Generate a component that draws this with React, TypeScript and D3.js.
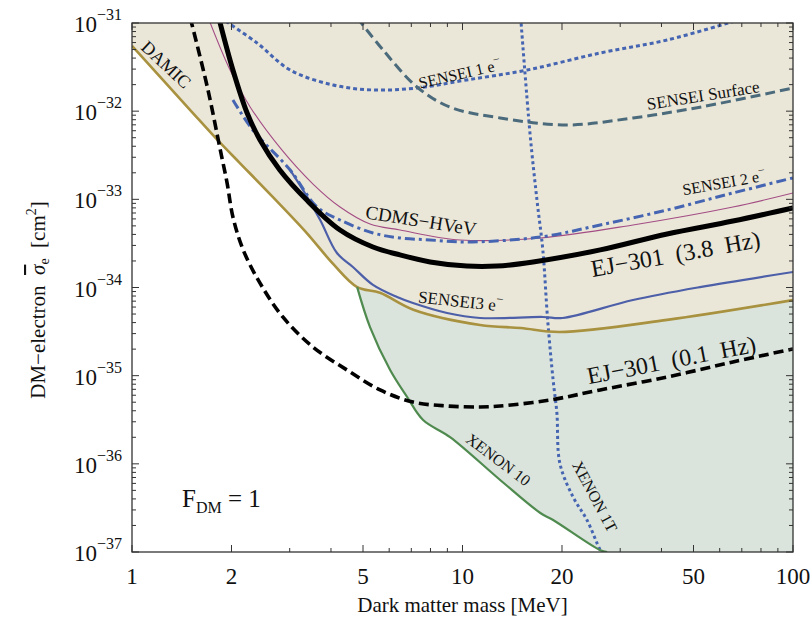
import React from 'react'
import * as d3 from 'd3'

const width = 811
const height = 622
const margin = { left: 132, top: 23, right: 18, bottom: 70 }
const font = 'Liberation Serif, Times New Roman, serif'

// tick labels
const massTicks = [1, 2, 5, 10, 20, 50, 100]
const massMinor = [3, 4, 6, 7, 8, 9, 30, 40, 60, 70, 80, 90]
const sigmaExps = [-31, -32, -33, -34, -35, -36, -37]

// DAMIC + SENSEI combined (gold)
const damicMass = [1, 1.5, 1.85, 2.12, 2.67, 3.38, 4.06, 4.8, 5.63, 7.1, 11.3, 15, 19.7, 41.6, 100]
const damicSigma = [5.5e-32, 1.03e-32, 4.36e-33, 2.58e-33, 1.06e-33, 4.15e-34, 1.85e-34, 1.01e-34, 8.7e-35, 5.6e-35, 3.76e-35, 3.47e-35, 3.13e-35, 4.29e-35, 7.2e-35]

// EJ-301 (3.8 Hz)
const ej38Mass = [1.83, 2.02, 2.23, 2.44, 2.8, 3.38, 4.26, 5.36, 6.47, 7.98, 10.3, 12.7, 16.35, 26.1, 41.6, 65.8, 100]
const ej38Sigma = [1.15e-31, 2.93e-32, 9.53e-33, 4.71e-33, 2.15e-33, 9.8e-34, 4.49e-34, 2.88e-34, 2.34e-34, 1.95e-34, 1.75e-34, 1.75e-34, 1.95e-34, 2.67e-34, 4.05e-34, 5.67e-34, 7.98e-34]

// EJ-301 (0.1 Hz)
const ej01Mass = [1.5, 1.69, 1.85, 1.94, 2.02, 2.17, 2.44, 2.86, 3.53, 4.47, 5.63, 7.08, 8.98, 11.3, 13, 18.4, 26.1, 41.6, 65.8, 100]
const ej01Sigma = [1.15e-31, 1.88e-32, 3.63e-33, 1.53e-33, 6.31e-34, 2.67e-34, 1.12e-34, 4.63e-35, 2.11e-35, 1.16e-35, 6.89e-36, 5.02e-36, 4.53e-36, 4.42e-36, 4.53e-36, 5.3e-36, 6.89e-36, 9.66e-36, 1.43e-35, 2.01e-35]

// CDMS-HVeV
const cdmsMass = [1.7, 1.98, 2.28, 2.84, 3.53, 4.26, 5.25, 6.47, 9.84, 17.2, 32.8, 65.8, 100]
const cdmsSigma = [1.15e-31, 2.93e-32, 1.11e-32, 3.63e-33, 1.49e-33, 8.18e-34, 5.25e-34, 4.49e-34, 3.46e-34, 3.65e-34, 5.12e-34, 8.18e-34, 1.18e-33]

// SENSEI 2e-
const sensei2Mass = [2.02, 2.32, 3.01, 3.63, 4.26, 5.36, 6.47, 7.98, 10.3, 17.2, 26.1, 41.6, 65.8, 100]
const sensei2Sigma = [1.34e-32, 6.11e-33, 2.15e-33, 8.18e-34, 5.83e-34, 4.15e-34, 3.65e-34, 3.46e-34, 3.28e-34, 3.74e-34, 5.12e-34, 7.57e-34, 1.18e-33, 1.75e-33]

// SENSEI 3e-
const sensei3Mass = [3.01, 3.29, 3.71, 4.17, 4.66, 5.36, 6.34, 7.08, 8.98, 11.3, 17.5, 20.1, 32.8, 52.3, 100]
const sensei3Sigma = [2.15e-33, 1.28e-33, 5.83e-34, 2.46e-34, 1.71e-34, 1.07e-34, 7.8e-35, 6.67e-35, 5.14e-35, 4.51e-35, 4.63e-35, 4.51e-35, 7.21e-35, 1.01e-34, 1.5e-34]

// SENSEI 1e-
const sensei1Mass = [1.92, 2.39, 3.01, 4.06, 5.36, 7.28, 10.3, 15.7, 26.1, 41.6, 66.5]
const sensei1Sigma = [1.05e-31, 5.93e-32, 2.93e-32, 1.98e-32, 1.74e-32, 1.83e-32, 2.26e-32, 2.93e-32, 4.57e-32, 6.41e-32, 1.05e-31]

// SENSEI surface
const surfaceMass = [4.8, 5.75, 7.28, 9.17, 13, 20.7, 32.8, 52.3, 100]
const surfaceSigma = [1.15e-31, 4.94e-32, 1.88e-32, 1.11e-32, 8.38e-33, 6.97e-33, 8.38e-33, 1.11e-32, 1.83e-32]

// XENON 10
const xenon10Mass = [4.8, 5.25, 6.04, 6.8, 7.6, 9.17, 13, 17.2, 18.8, 26.1, 27.4]
const xenon10Sigma = [1.01e-34, 3.56e-35, 1.16e-35, 5.73e-36, 3.14e-36, 2.01e-36, 6.56e-37, 2.77e-37, 2.31e-37, 1.05e-37, 1e-37]

// XENON 1T
const xenon1tMass = [15.0, 16.0, 16.8, 17.5, 18.1, 18.8, 19.3, 19.7, 21.6, 23.8, 26.1, 26.8]
const xenon1tSigma = [1.15e-31, 5.65e-33, 9.8e-34, 2.67e-34, 4.29e-35, 8.93e-36, 3.78e-36, 1.02e-36, 4.21e-37, 2.31e-37, 1.05e-37, 0.9e-37]

const zip = (ms: number[], ss: number[]): [number, number][] => ms.map((m, i) => [m, ss[i]])

function App() {
  const x = d3.scaleLog().domain([1, 100]).range([margin.left, width - margin.right])
  const y = d3.scaleLog().domain([1e-37, 1e-31]).range([height - margin.bottom, margin.top])
  const x0 = x(1)
  const x1 = x(100)
  const y0 = y(1e-37)
  const y1 = y(1e-31)

  const line = d3
    .line<[number, number]>()
    .x((d) => x(d[0]))
    .y((d) => y(d[1]))
    .curve(d3.curveCatmullRom.alpha(0.5))

  const damicPts = zip(damicMass, damicSigma)
  const xenonPts = zip(xenon10Mass, xenon10Sigma)

  const greenArea = `${line(xenonPts)}L${x1},${y0}L${x1},${y1}L${x(4.8)},${y1}Z`
  const beigeArea = `${line(damicPts)}L${x1},${y1}L${x0},${y1}Z`

  const yMinor = y.ticks().filter((v) => Math.abs(Math.log10(v) - Math.round(Math.log10(v))) > 1e-6)

  const curves = [
    { d: line(zip(xenon1tMass, xenon1tSigma)), stroke: '#4565b2', w: 3, dash: '3,3' },
    { d: line(zip(sensei1Mass, sensei1Sigma)), stroke: '#4565b2', w: 3, dash: '4,3' },
    { d: line(zip(surfaceMass, surfaceSigma)), stroke: '#4b6b7c', w: 3, dash: '10,5' },
    { d: line(damicPts), stroke: '#a8913f', w: 2.6, dash: undefined },
    { d: line(xenonPts), stroke: '#4f8a4f', w: 2.2, dash: undefined },
    { d: line(zip(cdmsMass, cdmsSigma)), stroke: '#a34d85', w: 1.1, dash: undefined },
    { d: line(zip(sensei3Mass, sensei3Sigma)), stroke: '#4c5fa8', w: 2.2, dash: undefined },
    { d: line(zip(sensei2Mass, sensei2Sigma)), stroke: '#4565b2', w: 3, dash: '10,4,3,4' },
    { d: line(zip(ej38Mass, ej38Sigma)), stroke: '#000', w: 5, dash: undefined },
    { d: line(zip(ej01Mass, ej01Sigma)), stroke: '#000', w: 3.6, dash: '10,5' },
  ]

  const labels = [
    { t: 'DAMIC', sup: '', x: 162, y: 69, a: 43, s: 18 },
    { t: 'SENSEI 1 e', sup: '−', x: 461, y: 79, a: -13, s: 16 },
    { t: 'SENSEI Surface', sup: '', x: 704, y: 101, a: -9, s: 17 },
    { t: 'SENSEI 2 e', sup: '−', x: 725, y: 188, a: -10, s: 16 },
    { t: 'CDMS−HVeV', sup: '', x: 420, y: 227, a: 9, s: 19 },
    { t: 'EJ−301  (3.8  Hz)', sup: '', x: 677, y: 262, a: -10, s: 24 },
    { t: 'SENSEI3 e', sup: '−', x: 460, y: 307, a: 6, s: 17 },
    { t: 'EJ−301  (0.1  Hz)', sup: '', x: 673, y: 368, a: -11, s: 24 },
    { t: 'XENON 10', sup: '', x: 495, y: 464, a: 37, s: 16 },
    { t: 'XENON 1T', sup: '', x: 590, y: 499, a: 62, s: 16 },
  ]

  return (
    <svg
      width={width}
      height={height}
      style={{ position: 'absolute', left: 0, top: 0, background: '#fff' }}
      fontFamily={font}
    >
      <defs>
        <clipPath id="plot">
          <rect x={x0} y={y1} width={x1 - x0} height={y0 - y1} />
        </clipPath>
      </defs>
      <g clipPath="url(#plot)">
        <path d={greenArea} fill="#dbe4dc" />
        <path d={beigeArea} fill="#ebe7d8" />
        {curves.map((c, i) => (
          <path
            key={i}
            d={c.d ?? ''}
            fill="none"
            stroke={c.stroke}
            strokeWidth={c.w}
            strokeDasharray={c.dash}
          />
        ))}
      </g>

      {labels.map((l) => (
        <text
          key={l.t}
          transform={`translate(${l.x},${l.y}) rotate(${l.a})`}
          textAnchor="middle"
          fontSize={l.s}
          style={{ whiteSpace: 'pre' }}
          fill="#111"
        >
          {l.t}
          {l.sup && (
            <tspan dy={-l.s * 0.45} fontSize={l.s * 0.75}>
              {l.sup}
            </tspan>
          )}
        </text>
      ))}

      <text x={182} y={507} fontSize={25} fill="#111">
        F
        <tspan dy={6} fontSize={16}>
          DM
        </tspan>
        <tspan dy={-6} style={{ whiteSpace: 'pre' }}>
          {' = 1'}
        </tspan>
      </text>

      {/* frame */}
      <rect x={x0} y={y1} width={x1 - x0} height={y0 - y1} fill="none" stroke="#333" strokeWidth={1.3} />

      {/* x ticks */}
      {massTicks.map((m) => (
        <g key={m}>
          <line x1={x(m)} x2={x(m)} y1={y0} y2={y0 - 7} stroke="#333" />
          <line x1={x(m)} x2={x(m)} y1={y1} y2={y1 + 7} stroke="#333" />
          <text x={x(m)} y={584} textAnchor="middle" fontSize={23} fill="#111">
            {m}
          </text>
        </g>
      ))}
      {massMinor.map((m) => (
        <g key={m}>
          <line x1={x(m)} x2={x(m)} y1={y0} y2={y0 - 4} stroke="#333" />
          <line x1={x(m)} x2={x(m)} y1={y1} y2={y1 + 4} stroke="#333" />
        </g>
      ))}

      {/* y ticks */}
      {sigmaExps.map((e) => {
        const v = Math.pow(10, e)
        return (
          <g key={e}>
            <line x1={x0} x2={x0 + 7} y1={y(v)} y2={y(v)} stroke="#333" />
            <line x1={x1} x2={x1 - 7} y1={y(v)} y2={y(v)} stroke="#333" />
            <text x={122} y={y(v) + 9} textAnchor="end" fontSize={23} fill="#111">
              10
              <tspan dy={-12} fontSize={16}>
                {`−${-e}`}
              </tspan>
            </text>
          </g>
        )
      })}
      {yMinor.map((v, i) => (
        <g key={i}>
          <line x1={x0} x2={x0 + 4} y1={y(v)} y2={y(v)} stroke="#333" />
          <line x1={x1} x2={x1 - 4} y1={y(v)} y2={y(v)} stroke="#333" />
        </g>
      ))}

      {/* axis titles */}
      <text x={(x0 + x1) / 2} y={612} textAnchor="middle" fontSize={21} fill="#111">
        Dark matter mass [MeV]
      </text>
      <text transform="translate(45,300) rotate(-90)" textAnchor="middle" fontSize={21} fill="#111" style={{ whiteSpace: 'pre' }}>
        {'DM−electron  '}
        <tspan fontStyle="italic" textDecoration="overline">σ</tspan>
        <tspan dy={4} fontSize={14}>
          e
        </tspan>
        <tspan dy={-4}>{'  [cm'}</tspan>
        <tspan dy={-9} fontSize={14}>
          2
        </tspan>
        <tspan dy={9}>]</tspan>
      </text>
    </svg>
  )
}

export default App
